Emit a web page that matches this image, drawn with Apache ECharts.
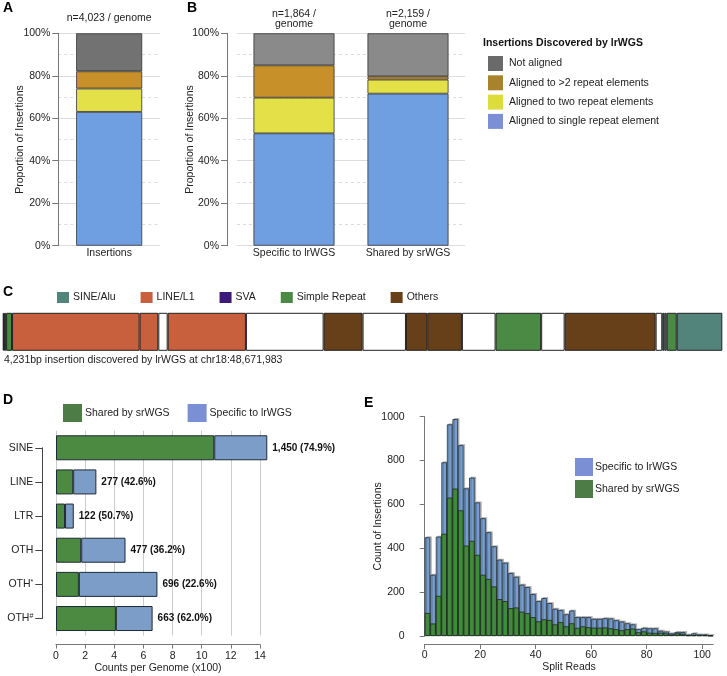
<!DOCTYPE html>
<html>
<head>
<meta charset="utf-8">
<script src="https://cdn.jsdelivr.net/npm/echarts@6/dist/echarts.min.js"></script>
<style>
    html, body { margin: 0; padding: 0; background: #fff; }
    #main { width: 727px; height: 676px; }
</style>
</head>
<body>
<div id="main"></div>
<script>
const e = sel => document.querySelector(sel)

// panel A / B : proportion of insertions (%)
const repeatNames = ['Aligned to single repeat element', 'Aligned to two repeat elements', 'Aligned to >2 repeat elements', 'Not aligned']
const aCategories = ['Insertions']
const aTopLabels = ['n=4,023 / genome']
const aSingle = [63.0]
const aTwo = [11.0]
const aMore = [8.1]
const aNone = [17.9]
const bCategories = ['Specific to lrWGS', 'Shared by srWGS']
const bTopLabels = ['n=1,864 /\ngenome', 'n=2,159 /\ngenome']
const bSingle = [52.9, 71.6]
const bTwo = [16.8, 6.6]
const bMore = [15.2, 1.5]
const bNone = [15.1, 20.3]

// panel C : one 4,231bp insertion, segments in bp from left to right
const cTypes = ['SINE/Alu', 'LINE/L1', 'SVA', 'Simple Repeat', 'Others']
const segLengths = [8, 12, 35, 750, 110, 55, 460, 457, 229, 255, 125, 204, 198, 268, 138, 535, 39, 12, 14, 59, 268]
const segTypes = ['none', 'none', 'Simple Repeat', 'LINE/L1', 'LINE/L1', 'none', 'LINE/L1', 'none', 'Others', 'none',
    'Others', 'Others', 'none', 'Simple Repeat', 'none', 'Others', 'none', 'SINE/Alu', 'SINE/Alu', 'Simple Repeat', 'SINE/Alu']

// panel D : counts per genome (x100)
const dCategories = ['SINE', 'LINE', 'LTR', 'OTH', 'OTH*', 'OTH#']
const dShared = [10.86, 1.18, 0.62, 1.73, 1.57, 4.11]
const dSpecific = [3.64, 1.59, 0.60, 3.04, 5.39, 2.52]
const dLabels = ['1,450 (74.9%)', '277 (42.6%)', '122 (50.7%)', '477 (36.2%)', '696 (22.6%)', '663 (62.0%)']

// panel E : histogram of split reads, bins of 2
const eTotal = [450, 279, 453, 792, 965, 989, 870, 673, 722, 609,
    537, 473, 409, 348, 334, 287, 270, 234, 223, 191,
    159, 173, 150, 124, 118, 99, 116, 86, 86, 86,
    78, 78, 81, 80, 72, 66, 58, 53, 31, 37,
    35, 35, 24, 20, 12, 18, 18, 6, 12, 7,
    7, 3]
const eShared = [105, 57, 183, 466, 631, 672, 573, 412, 434, 370,
    279, 260, 226, 168, 159, 127, 130, 111, 104, 86,
    67, 76, 73, 53, 63, 44, 58, 37, 44, 40,
    38, 38, 39, 35, 31, 26, 31, 34, 17, 21,
    15, 14, 15, 12, 6, 12, 10, 3, 3, 3,
    3, 1]
const eTicks = [0, 20, 40, 60, 80, 100]

const font = 'Liberation Sans, Arial, sans-serif'
const repeatColors = ['#6f9fe0', '#e4e048', '#c89028']
const cColors = {
    'SINE/Alu': '#53847c',
    'LINE/L1': '#c8603e',
    'SVA': '#3e1a78',
    'Simple Repeat': '#4a8a45',
    'Others': '#673f18',
    'none': '#ffffff',
}

const letter = (text, left, top) => ({
    text, left, top, padding: 0,
    textStyle: { fontSize: 14, fontWeight: 'bold', color: '#000', fontFamily: font },
})

const pctAxis = (gridIndex, offset, nameGap) => ({
    type: 'value', gridIndex, min: 0, max: 100, interval: 20, offset,
    name: 'Proportion of Insertions', nameLocation: 'middle', nameGap, nameMoveOverlap: false,
    nameTextStyle: { fontSize: 10.5, color: '#222' },
    axisLine: { show: true, lineStyle: { color: '#777' } },
    axisTick: { show: true, length: 6, lineStyle: { color: '#777' } },
    axisLabel: { formatter: '{value}%', fontSize: 10.5, color: '#222', margin: 8 },
    splitLine: { lineStyle: { color: '#ddd' } },
    minorTick: { show: false, splitNumber: 2 },
    minorSplitLine: { show: true, lineStyle: { color: '#ddd', type: [3, 3] } },
})

const catAxis = (gridIndex, data, position, margin) => ({
    type: 'category', gridIndex, data, position,
    axisLine: { show: false }, axisTick: { show: false },
    axisLabel: { fontSize: 10.5, color: '#222', margin, lineHeight: 10, interval: 0 },
})

const stackSeries = (lists, noneColor, xi, yi, stack, barWidth) => lists.map((list, i) => ({
    name: repeatNames[i], type: 'bar', stack, xAxisIndex: xi, yAxisIndex: yi, barWidth,
    data: list,
    itemStyle: { color: i < 3 ? repeatColors[i] : noneColor, borderColor: '#333', borderWidth: 0.8 },
}))

const segSeries = () => {
    let list = segLengths.map((len, i) => ({
        name: segTypes[i] === 'none' ? 'Unannotated' : segTypes[i],
        type: 'bar', stack: 'seg', xAxisIndex: 4, yAxisIndex: 2, barWidth: 40,
        data: [len],
        itemStyle: { color: cColors[segTypes[i]], borderColor: '#222', borderWidth: 1 },
    }))
    // SVA is in the key but has no segment here
    list.push({ name: 'SVA', type: 'bar', xAxisIndex: 4, yAxisIndex: 2, data: [], itemStyle: { color: cColors['SVA'] } })
    return list
}

const otherLabel = v => {
    if (v === 'OTH*' || v === 'OTH#') {
        return 'OTH{s|' + v[3] + '}'
    }
    return v
}

const initChart = () => {
    let myChart = echarts.init(e('#main'), null, { renderer: 'canvas' })
    let option = {
        animation: false,
        textStyle: { fontFamily: font },
        title: [
            letter('A', 3, 1),
            letter('B', 187, 1),
            letter('C', 3, 285),
            letter('D', 3, 393),
            letter('E', 364, 396),
            {
                text: 'Insertions Discovered by lrWGS', left: 483, top: 38, padding: 0,
                textStyle: { fontSize: 10.5, fontWeight: 'bold', color: '#111', fontFamily: font },
            },
            {
                text: '4,231bp insertion discovered by lrWGS at chr18:48,671,983', left: 4, top: 355, padding: 0,
                textStyle: { fontSize: 10.5, fontWeight: 'normal', color: '#222', fontFamily: font },
            },
        ],
        legend: [
            {
                orient: 'vertical', left: 488, top: 56, padding: 0, itemWidth: 15, itemHeight: 15, itemGap: 4.3,
                icon: 'rect', selectedMode: false,
                textStyle: { fontSize: 10.5, color: '#222', padding: [0, 0, 0, 1] },
                data: [
                    { name: 'Not aligned', itemStyle: { color: '#6a6a6a', borderWidth: 0 } },
                    { name: 'Aligned to >2 repeat elements', itemStyle: { color: '#a8832c', borderWidth: 0 } },
                    { name: 'Aligned to two repeat elements', itemStyle: { color: '#dcdc3c', borderWidth: 0 } },
                    { name: 'Aligned to single repeat element', itemStyle: { color: '#7b8fd4', borderWidth: 0 } },
                ],
            },
            {
                orient: 'horizontal', left: 57, top: 292, padding: 0, itemWidth: 12, itemHeight: 11, itemGap: 25,
                icon: 'rect', selectedMode: false,
                textStyle: { fontSize: 10.5, color: '#222', padding: [0, 0, 0, -1] },
                data: cTypes.map(t => ({ name: t, itemStyle: { color: cColors[t], borderWidth: 0 } })),
            },
            {
                orient: 'horizontal', left: 63, top: 404, padding: 0, itemWidth: 19, itemHeight: 18, itemGap: 18,
                icon: 'rect', selectedMode: false,
                textStyle: { fontSize: 10.5, color: '#222', padding: [0, 0, 0, -2] },
                data: [
                    { name: 'Shared by srWGS', itemStyle: { color: '#4e7c47', borderWidth: 0 } },
                    { name: 'Specific to lrWGS', itemStyle: { color: '#7b8fd4', borderWidth: 0 } },
                ],
            },
            {
                orient: 'vertical', left: 575, top: 458, padding: 0, itemWidth: 18, itemHeight: 18, itemGap: 4,
                icon: 'rect', selectedMode: false,
                textStyle: { fontSize: 10.5, color: '#222', padding: [0, 0, 0, -3] },
                data: [
                    { name: 'Specific to lrWGS', itemStyle: { color: '#7b8fd4', borderWidth: 0 } },
                    { name: 'Shared by srWGS', itemStyle: { color: '#4e7c47', borderWidth: 0 } },
                ],
            },
        ],
        grid: [
            { left: 58.3, top: 33.3, width: 101.7, height: 212.4 },
            { left: 237, top: 33.3, width: 228, height: 212.4 },
            { left: 2.7, top: 313.3, width: 719.6, height: 40 },
            { left: 56, top: 430.7, width: 204, height: 204.9 },
            { left: 42.3, top: 447.8, width: 10, height: 170.7 },
            { left: 424.7, top: 416.7, width: 288.6, height: 219.3 },
        ],
        xAxis: [
            catAxis(0, aCategories, 'bottom', 2),
            catAxis(0, aTopLabels, 'top', 10),
            catAxis(1, bCategories, 'bottom', 2),
            catAxis(1, bTopLabels, 'top', 4),
            { type: 'value', gridIndex: 2, min: 0, max: 4231, show: false },
            {
                type: 'value', gridIndex: 3, min: 0, max: 14, interval: 2, offset: 9, position: 'bottom',
                name: 'Counts per Genome (x100)', nameLocation: 'middle', nameGap: 18, nameMoveOverlap: false,
                nameTextStyle: { fontSize: 10.5, color: '#222' },
                axisLine: { show: true, lineStyle: { color: '#777' } },
                axisTick: { show: true, length: 4, lineStyle: { color: '#777' } },
                axisLabel: { fontSize: 10.5, color: '#222', margin: 6 },
                splitLine: { show: true, lineStyle: { color: '#ccc' } },
            },
            { type: 'value', gridIndex: 4, show: false },
            { type: 'category', gridIndex: 5, position: 'top', data: eTotal.map((v, i) => String(i * 2)), show: false },
            {
                type: 'value', gridIndex: 5, min: 0, max: 104, offset: 8, position: 'bottom',
                name: 'Split Reads', nameLocation: 'middle', nameGap: 18, nameMoveOverlap: false,
                nameTextStyle: { fontSize: 10.5, color: '#222' },
                axisLine: { show: true, lineStyle: { color: '#777' } },
                axisTick: { show: true, length: 5, customValues: eTicks, lineStyle: { color: '#777' } },
                axisLabel: { fontSize: 10.5, color: '#222', margin: 6, customValues: eTicks },
                splitLine: { show: false },
            },
        ],
        yAxis: [
            pctAxis(0, 0, 33),
            pctAxis(1, 10, 31),
            { type: 'category', gridIndex: 2, data: ['insertion'], show: false },
            { type: 'category', gridIndex: 3, data: dCategories, inverse: true, show: false },
            {
                type: 'category', gridIndex: 4, data: dCategories, inverse: true, boundaryGap: false,
                axisLine: { show: true, lineStyle: { color: '#444' } },
                axisTick: { show: true, length: 7, lineStyle: { color: '#444' } },
                axisLabel: {
                    fontSize: 10.5, color: '#222', margin: 9, formatter: otherLabel,
                    rich: { s: { fontSize: 7, verticalAlign: 'top', lineHeight: 8 } },
                },
            },
            {
                type: 'value', gridIndex: 5, min: 0, max: 1000, interval: 200, offset: 12,
                name: 'Count of Insertions', nameLocation: 'middle', nameGap: 29, nameMoveOverlap: false,
                nameTextStyle: { fontSize: 10.5, color: '#222' },
                axisLine: { show: true, lineStyle: { color: '#777' } },
                axisTick: { show: true, length: 5, lineStyle: { color: '#777' } },
                axisLabel: { fontSize: 10.5, color: '#222', margin: 8, formatter: v => String(v) },
                splitLine: { show: false },
            },
        ],
        series: [
            ...stackSeries([aSingle, aTwo, aMore, aNone], '#727272', 0, 0, 'a', 66),
            ...stackSeries([bSingle, bTwo, bMore, bNone], '#8a8a8a', 2, 1, 'b', 81),
            ...segSeries(),
            {
                name: 'Shared by srWGS', type: 'bar', stack: 'd', xAxisIndex: 5, yAxisIndex: 3,
                barWidth: 25, clip: false, data: dShared,
                itemStyle: { color: '#4b8a40', borderColor: '#1e2b36', borderWidth: 1 },
            },
            {
                name: 'Specific to lrWGS', type: 'bar', stack: 'd', xAxisIndex: 5, yAxisIndex: 3,
                barWidth: 25, clip: false, data: dSpecific,
                itemStyle: { color: '#7b9dc8', borderColor: '#1e2b36', borderWidth: 1 },
                label: {
                    show: true, position: 'right', distance: 5,
                    fontSize: 10, fontWeight: 'bold', color: '#111',
                    formatter: p => dLabels[p.dataIndex],
                },
            },
            {
                name: 'Specific to lrWGS', type: 'bar', xAxisIndex: 7, yAxisIndex: 5,
                barGap: '-100%', barCategoryGap: '0%', data: eTotal,
                itemStyle: {
                    color: '#779ece', borderColor: '#25323f', borderWidth: 0.8,
                    shadowColor: 'rgba(0,0,0,0.25)', shadowOffsetX: 1.5, shadowOffsetY: -1,
                },
            },
            {
                name: 'Shared by srWGS', type: 'bar', xAxisIndex: 7, yAxisIndex: 5,
                barGap: '-100%', barCategoryGap: '0%', data: eShared,
                itemStyle: { color: '#428a3b', borderColor: '#1c2a1c', borderWidth: 0.8 },
            },
        ],
    }
    myChart.setOption(option)
}

const __main = () => {
    initChart()
}

__main()
</script>
</body>
</html>
